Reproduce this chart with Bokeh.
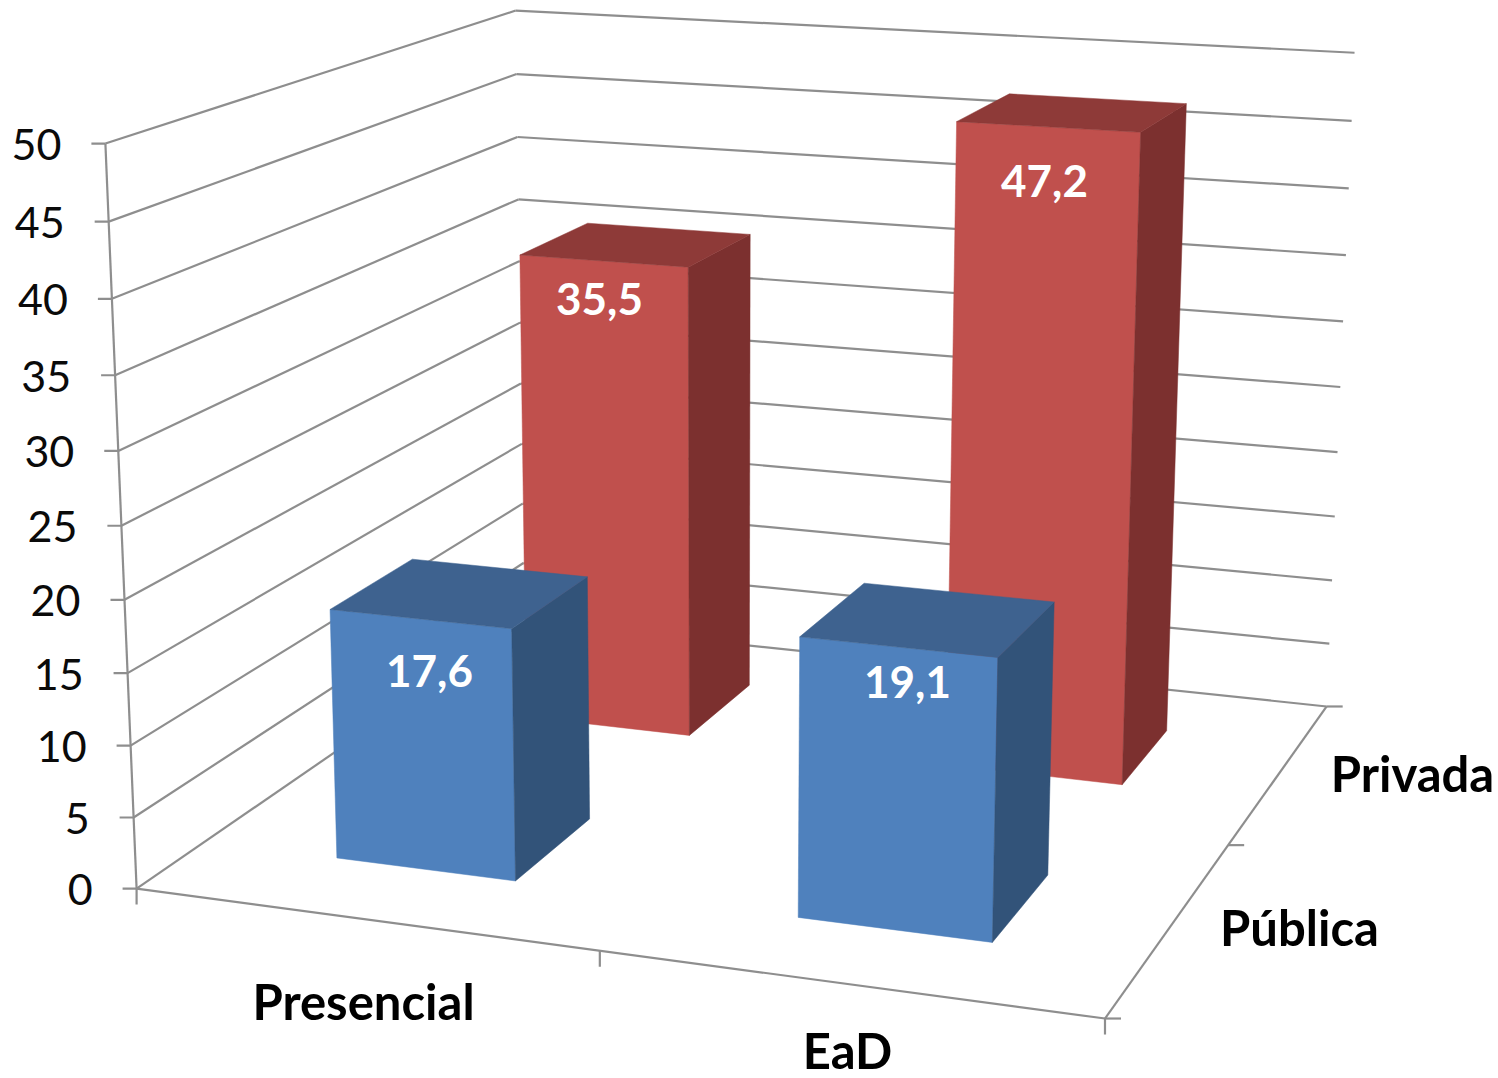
import numpy as np
from bokeh.core.properties import value
from bokeh.embed import file_html
from bokeh.models import Range1d
from bokeh.plotting import figure
from bokeh.resources import INLINE

# Chart data
categories = ["Presencial", "EaD"]
series_names = ["Pública", "Privada"]
publica = [17.6, 19.1]
privada = [35.5, 47.2]
value_ticks = [0, 5, 10, 15, 20, 25, 30, 35, 40, 45, 50]
value_max = 50

# Bar footprint inside each half-unit band (gap width of 150 %)
BAR_FRACTION = 0.4
BAR_TRIM = 0.0015

GRID = "#8e8e8e"
FONT = value("Lato")
BLUE = dict(front="#4f81bd", side="#325379", top="#3e628f")
RED = dict(front="#c0504d", side="#7c302f", top="#8e3a38")

# Known views of the chart box (x across, y into depth, height as a value) used
# to solve the camera's 3x4 perspective matrix.
CAMERA_ANCHORS = [
    ((0, 0, 0), (136, 888)), ((0, 0, 50), (105, 143)), ((1, 0, 0), (1104, 1018)),
    ((1, 1, 0), (1326, 706)), ((1, 1, 50), (1354, 52)), ((0, 1, 50), (515, 10)),
    ((0, 1, 45), (516, 74)), ((0, 1, 40), (517, 137)), ((0, 1, 35), (518, 198)),
    ((.5, 0, 0), (599.5, 951)), ((1, .5, 0), (1228, 844)),
    ((1, 1, 25), (1340, 387)), ((0, 0, 25), (121, 525)),
]


def solve_camera(anchors):
    rows = []
    for (x, y, z), (u, v) in anchors:
        h = [x, y, z / value_max, 1]
        rows.append(h + [0, 0, 0, 0] + [-u * c for c in h])
        rows.append([0, 0, 0, 0] + h + [-v * c for c in h])
    return np.linalg.svd(np.array(rows, float))[2][-1].reshape(3, 4)


CAMERA = solve_camera(CAMERA_ANCHORS)


def project(x, y, z):
    w = CAMERA @ np.array([x, y, z / value_max, 1.0])
    return float(w[0] / w[2]), float(w[1] / w[2])


p = figure(width=1498, height=1078, output_backend="svg", toolbar_location=None,
           x_range=Range1d(0, 1498), y_range=Range1d(1078, 0),
           min_border=0, outline_line_color=None)
p.axis.visible = False
p.grid.visible = False


def line3d(a, b):
    (x0, y0), (x1, y1) = project(*a), project(*b)
    p.line([x0, x1], [y0, y1], line_color=GRID, line_width=2.2)


# Gridlines on the left and back walls, including the floor's far edges
for v in value_ticks:
    line3d((0, 0, v), (0, 1, v))
    line3d((0, 1, v), (1, 1, v))

# Value axis and the two near floor edges
line3d((0, 0, 0), (0, 0, value_max))
line3d((0, 0, 0), (1, 0, 0))
line3d((1, 0, 0), (1, 1, 0))

# Tick marks and value labels
for v in value_ticks:
    x, y = project(0, 0, v)
    p.line([x - 14, x], [y, y], line_color=GRID, line_width=2.2)
    p.text([x - 44], [y + 1], text=[str(v)], text_align="right", text_baseline="middle",
           text_font=FONT, text_font_size="43px", text_color="#0a0a0a")
for t in [0, 0.5, 1]:
    x, y = project(t, 0, 0)
    p.line([x, x], [y, y + 16], line_color=GRID, line_width=2.2)
    x, y = project(1, t, 0)
    p.line([x, x + 16], [y, y], line_color=GRID, line_width=2.2)


def bar(cat_index, depth_index, height, colors):
    pad = (1 - BAR_FRACTION) / 2 / 2
    x0, x1 = cat_index / 2 + pad, (cat_index + 1) / 2 - pad - BAR_TRIM
    y0, y1 = depth_index / 2 + pad, (depth_index + 1) / 2 - pad
    faces = [
        ([(x0, y0, 0), (x1, y0, 0), (x1, y0, height), (x0, y0, height)], colors["front"]),
        ([(x1, y0, 0), (x1, y1, 0), (x1, y1, height), (x1, y0, height)], colors["side"]),
        ([(x0, y0, height), (x1, y0, height), (x1, y1, height), (x0, y1, height)], colors["top"]),
    ]
    for corners, color in faces:
        pts = [project(*c) for c in corners]
        p.patch([q[0] for q in pts], [q[1] for q in pts], fill_color=color,
                line_color=color, line_width=0.5)


# Back row first so the front row covers it
for i, v in enumerate(privada):
    bar(i, 1, v, RED)
for i, v in enumerate(publica):
    bar(i, 0, v, BLUE)


def fmt(v):
    return f"{v:.1f}".replace(".", ",")


# Data labels
label_spots = {(0, 0): (429, 670), (1, 0): (907, 681), (0, 1): (599, 298), (1, 1): (1044, 180)}
for depth, series in enumerate([publica, privada]):
    for i, v in enumerate(series):
        lx, ly = label_spots[(i, depth)]
        p.text([lx], [ly], text=[fmt(v)], text_align="center", text_baseline="middle",
               text_font=FONT, text_font_style="bold", text_font_size="44px",
               text_color="white")

# Category and series labels
for name, (lx, ly) in zip(categories + series_names,
                          [(363, 1000), (847, 1049), (1299, 926), (1412, 772)]):
    p.text([lx], [ly], text=[name], text_align="center", text_baseline="middle",
           text_font=FONT, text_font_style="bold", text_font_size="49px",
           text_color="black")

open("out.html", "w").write(file_html(p, INLINE))
